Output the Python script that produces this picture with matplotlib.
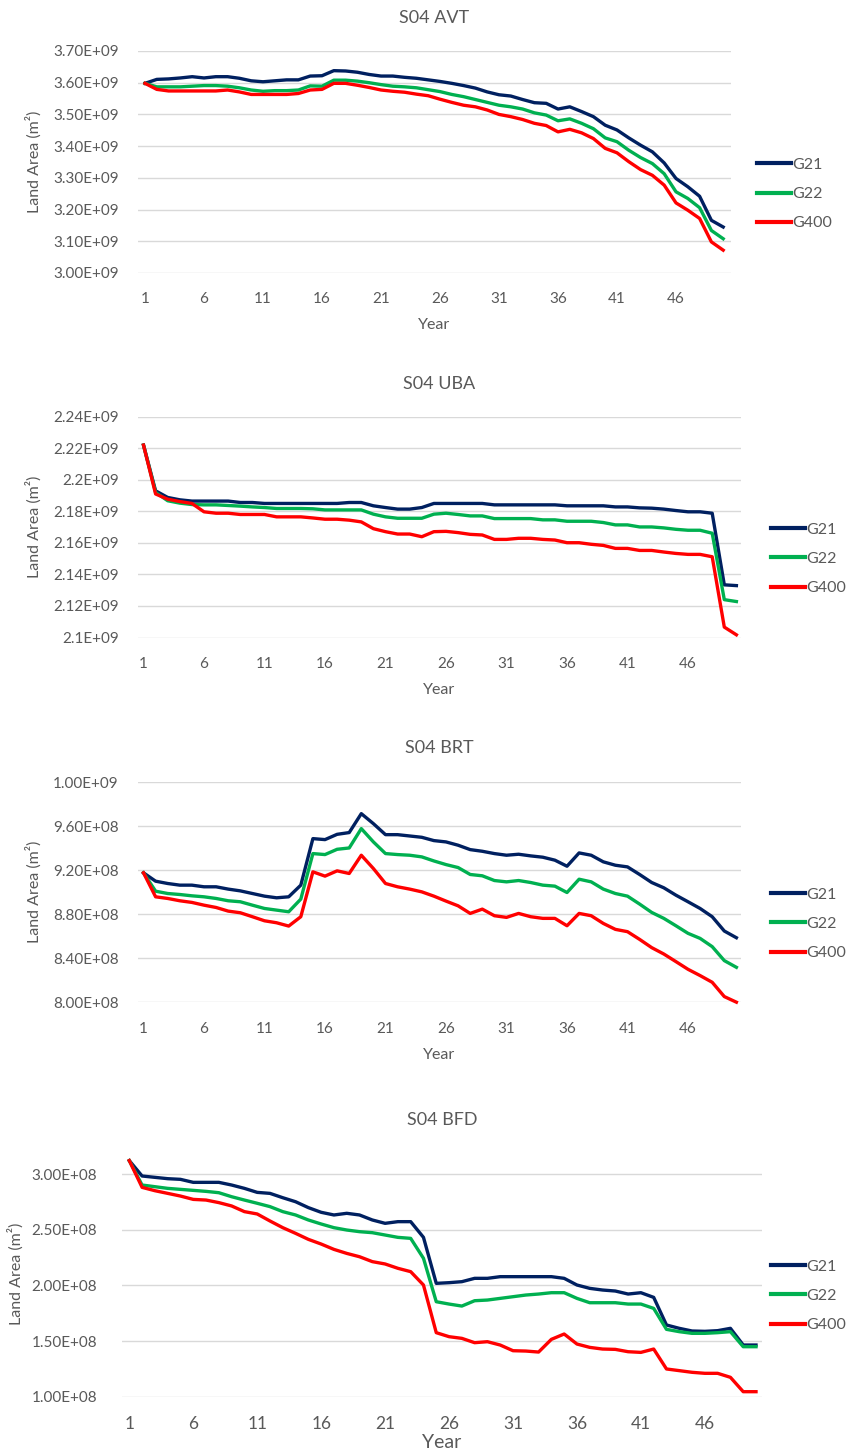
import matplotlib
matplotlib.use("Agg")
import matplotlib.pyplot as plt
from matplotlib.lines import Line2D

plt.rcParams['font.family'] = ['Lato', 'DejaVu Sans']

years = list(range(1, 51))
series_names = ["G21", "G22", "G400"]
colors = ["#002060", "#00B050", "#FF0000"]
xtick_years = [1, 6, 11, 16, 21, 26, 31, 36, 41, 46]

# ---- S04 AVT (units of 1e9 m2)
avt_g21 = [3.598, 3.6105, 3.612, 3.615, 3.619, 3.615, 3.619, 3.619, 3.614, 3.606,
           3.603, 3.606, 3.609, 3.609, 3.621, 3.622, 3.638, 3.637, 3.633, 3.626,
           3.621, 3.621, 3.617, 3.614, 3.609, 3.604, 3.598, 3.591, 3.583, 3.571,
           3.562, 3.558, 3.547, 3.537, 3.535, 3.517, 3.524, 3.509, 3.493, 3.466,
           3.451, 3.426, 3.403, 3.382, 3.347, 3.298, 3.272, 3.242, 3.166, 3.145]
avt_g22 = [3.598, 3.587, 3.587, 3.587, 3.589, 3.591, 3.591, 3.589, 3.584, 3.577,
           3.573, 3.575, 3.575, 3.577, 3.590, 3.589, 3.608, 3.608, 3.605, 3.600,
           3.594, 3.589, 3.587, 3.584, 3.578, 3.572, 3.563, 3.556, 3.547, 3.538,
           3.529, 3.524, 3.517, 3.505, 3.498, 3.480, 3.486, 3.472, 3.455, 3.426,
           3.414, 3.387, 3.364, 3.345, 3.313, 3.256, 3.235, 3.206, 3.134, 3.108]
avt_g400 = [3.598, 3.579, 3.574, 3.574, 3.574, 3.574, 3.574, 3.577, 3.571, 3.563,
            3.563, 3.563, 3.563, 3.566, 3.577, 3.579, 3.598, 3.598, 3.592, 3.585,
            3.577, 3.573, 3.570, 3.564, 3.559, 3.548, 3.538, 3.529, 3.524, 3.514,
            3.500, 3.493, 3.484, 3.472, 3.465, 3.445, 3.453, 3.442, 3.424, 3.393,
            3.379, 3.351, 3.326, 3.308, 3.277, 3.221, 3.198, 3.172, 3.098, 3.072]
avt_yticks = [3.00, 3.10, 3.20, 3.30, 3.40, 3.50, 3.60, 3.70]
avt_ylabels = ["3.00E+09", "3.10E+09", "3.20E+09", "3.30E+09", "3.40E+09",
               "3.50E+09", "3.60E+09", "3.70E+09"]

# ---- S04 UBA (units of 1e9 m2)
uba_g21 = [2.222, 2.193, 2.1888, 2.1873, 2.1865, 2.1865, 2.1865, 2.1865, 2.1856, 2.1856,
           2.185, 2.185, 2.185, 2.185, 2.185, 2.185, 2.185, 2.1856, 2.1856, 2.1835,
           2.1824, 2.1814, 2.1814, 2.1824, 2.185, 2.185, 2.185, 2.185, 2.185, 2.1841,
           2.1841, 2.1841, 2.1841, 2.1841, 2.1841, 2.1835, 2.1835, 2.1835, 2.1835, 2.1828,
           2.1828, 2.1822, 2.1820, 2.1814, 2.1805, 2.1797, 2.1797, 2.1788, 2.1334, 2.1329]
uba_g22 = [2.222, 2.192, 2.1867, 2.1852, 2.1843, 2.1841, 2.1841, 2.1837, 2.1833, 2.1828,
           2.1824, 2.1818, 2.1818, 2.1818, 2.1816, 2.1809, 2.1809, 2.1809, 2.1809, 2.1782,
           2.1765, 2.1756, 2.1756, 2.1756, 2.1782, 2.1788, 2.178, 2.1771, 2.1771, 2.1754,
           2.1754, 2.1754, 2.1754, 2.1746, 2.1746, 2.1737, 2.1737, 2.1737, 2.1729, 2.1714,
           2.1714, 2.1701, 2.1701, 2.1695, 2.1686, 2.168, 2.168, 2.1661, 2.124, 2.1228]
uba_g400 = [2.222, 2.191, 2.1877, 2.1862, 2.185, 2.1797, 2.1788, 2.1788, 2.178, 2.178,
            2.178, 2.1765, 2.1765, 2.1765, 2.1758, 2.175, 2.175, 2.1744, 2.1733, 2.169,
            2.1671, 2.1656, 2.1656, 2.1639, 2.1671, 2.1673, 2.1665, 2.1654, 2.165, 2.1622,
            2.1622, 2.1629, 2.1629, 2.1622, 2.1618, 2.1601, 2.1601, 2.1591, 2.1584, 2.1565,
            2.1565, 2.1552, 2.1552, 2.1542, 2.1533, 2.1527, 2.1527, 2.1512, 2.1066, 2.1017]
uba_yticks = [2.10, 2.12, 2.14, 2.16, 2.18, 2.20, 2.22, 2.24]
uba_ylabels = ["2.1E+09", "2.12E+09", "2.14E+09", "2.16E+09", "2.18E+09",
               "2.2E+09", "2.22E+09", "2.24E+09"]

# ---- S04 BRT (units of 1e8 m2)
brt_g21 = [9.177, 9.101, 9.080, 9.065, 9.065, 9.050, 9.050, 9.029, 9.013, 8.989,
           8.965, 8.950, 8.959, 9.065, 9.488, 9.479, 9.527, 9.543, 9.715, 9.624,
           9.524, 9.524, 9.512, 9.500, 9.470, 9.458, 9.428, 9.388, 9.373, 9.352,
           9.337, 9.346, 9.331, 9.319, 9.292, 9.237, 9.358, 9.337, 9.277, 9.246,
           9.231, 9.162, 9.089, 9.041, 8.974, 8.914, 8.853, 8.778, 8.648, 8.587]
brt_g22 = [9.177, 9.010, 8.989, 8.980, 8.968, 8.959, 8.944, 8.923, 8.914, 8.883,
           8.853, 8.838, 8.823, 8.938, 9.352, 9.343, 9.391, 9.403, 9.579, 9.458,
           9.352, 9.343, 9.337, 9.322, 9.285, 9.252, 9.225, 9.162, 9.150, 9.107,
           9.095, 9.107, 9.089, 9.065, 9.056, 8.998, 9.119, 9.095, 9.029, 8.989,
           8.965, 8.893, 8.817, 8.763, 8.696, 8.627, 8.581, 8.506, 8.379, 8.318]
brt_g400 = [9.177, 8.959, 8.944, 8.923, 8.908, 8.883, 8.862, 8.829, 8.814, 8.778,
            8.741, 8.723, 8.693, 8.778, 9.186, 9.147, 9.195, 9.171, 9.337, 9.216,
            9.080, 9.050, 9.029, 9.004, 8.965, 8.920, 8.877, 8.808, 8.847, 8.787,
            8.772, 8.808, 8.778, 8.763, 8.763, 8.696, 8.808, 8.787, 8.717, 8.663,
            8.642, 8.572, 8.497, 8.439, 8.370, 8.300, 8.243, 8.182, 8.052, 8.001]
brt_yticks = [8.0, 8.4, 8.8, 9.2, 9.6, 10.0]
brt_ylabels = ["8.00E+08", "8.40E+08", "8.80E+08", "9.20E+08", "9.60E+08", "1.00E+09"]

# ---- S04 BFD (units of 1e8 m2)
bfd_g21 = [3.12, 2.982, 2.970, 2.958, 2.952, 2.925, 2.925, 2.925, 2.901, 2.871,
           2.835, 2.826, 2.787, 2.751, 2.698, 2.656, 2.632, 2.647, 2.632, 2.587,
           2.557, 2.572, 2.572, 2.431, 2.018, 2.024, 2.033, 2.063, 2.063, 2.078,
           2.078, 2.078, 2.078, 2.078, 2.063, 2.003, 1.973, 1.958, 1.949, 1.922,
           1.934, 1.892, 1.644, 1.614, 1.590, 1.587, 1.593, 1.614, 1.464, 1.464]
bfd_g22 = [3.12, 2.901, 2.886, 2.871, 2.862, 2.853, 2.844, 2.832, 2.796, 2.766,
           2.737, 2.707, 2.662, 2.632, 2.587, 2.551, 2.518, 2.497, 2.482, 2.473,
           2.452, 2.431, 2.422, 2.243, 1.853, 1.832, 1.814, 1.862, 1.868, 1.883,
           1.898, 1.913, 1.922, 1.934, 1.934, 1.883, 1.844, 1.844, 1.844, 1.832,
           1.832, 1.793, 1.605, 1.584, 1.569, 1.569, 1.575, 1.584, 1.449, 1.449]
bfd_g400 = [3.12, 2.880, 2.850, 2.826, 2.802, 2.772, 2.766, 2.743, 2.713, 2.662,
            2.641, 2.578, 2.518, 2.467, 2.413, 2.371, 2.323, 2.287, 2.257, 2.213,
            2.192, 2.153, 2.123, 2.003, 1.575, 1.539, 1.524, 1.485, 1.494, 1.464,
            1.413, 1.410, 1.401, 1.515, 1.563, 1.473, 1.443, 1.428, 1.425, 1.404,
            1.398, 1.428, 1.249, 1.234, 1.219, 1.210, 1.210, 1.174, 1.045, 1.045]
bfd_yticks = [1.0, 1.5, 2.0, 2.5, 3.0]
bfd_ylabels = ["1.00E+08", "1.50E+08", "2.00E+08", "2.50E+08", "3.00E+08"]

for arr in [avt_g21, avt_g22, avt_g400, uba_g21, uba_g22, uba_g400,
            brt_g21, brt_g22, brt_g400, bfd_g21, bfd_g22, bfd_g400]:
    assert len(arr) == 50, len(arr)

W, H = 846, 1456
fig = plt.figure(figsize=(W / 100, H / 100), dpi=100)
fig.patch.set_facecolor("white")

TXT = "#595959"
GRID = "#D9D9D9"


def make_panel(title, data, scale, yticks, ylabels, ymin, ymax,
               x1px, pxyr, gl_left, gl_right, ytop_px, ybot_px,
               title_y, year_y, leg_y, leg_x, xtick_fs=11, year_fs=11.5,
               ylab_x=34, ypad=14):
    left = gl_left / W
    width = (gl_right - gl_left) / W
    bottom = 1 - ybot_px / H
    height = (ybot_px - ytop_px) / H
    ax = fig.add_axes([left, bottom, width, height])
    xl0 = 1 + (gl_left - x1px) / pxyr
    xl1 = 1 + (gl_right - x1px) / pxyr
    ax.set_xlim(xl0, xl1)
    ax.set_ylim(ymin * scale, ymax * scale)
    handles = []
    for vals, c, name in zip(data, colors, series_names):
        ax.plot(years, [v * scale for v in vals], color=c, lw=2.4,
                solid_joinstyle="round", clip_on=False, zorder=3)
        handles.append(Line2D([0], [0], color=c, lw=3.0))
    ax.set_yticks([t * scale for t in yticks])
    ax.set_yticklabels(ylabels)
    ax.set_xticks(xtick_years)
    ax.set_xticklabels([str(y) for y in xtick_years])
    ax.tick_params(axis="both", length=0, colors=TXT)
    ax.tick_params(axis="y", labelsize=11, pad=ypad)
    ax.tick_params(axis="x", labelsize=xtick_fs, pad=14)
    ax.grid(axis="y", color=GRID, lw=1.0, zorder=0)
    ax.set_axisbelow(True)
    for s in ax.spines.values():
        s.set_visible(False)
    xc = (gl_left + gl_right) / 2 / W
    fig.text(xc, 1 - title_y / H, title, ha="center", va="center",
             fontsize=13, color=TXT)
    fig.text(xc, 1 - year_y / H, "Year", ha="center", va="center",
             fontsize=year_fs, color=TXT)
    fig.text(ylab_x / W, 1 - (ytop_px + ybot_px) / 2 / H, "Land Area (m²)",
             rotation=90, ha="center", va="center", fontsize=11.5, color=TXT)
    leg = ax.legend(handles, series_names, loc="center left",
                    bbox_to_anchor=(leg_x / W, 1 - leg_y / H),
                    bbox_transform=fig.transFigure, frameon=False,
                    fontsize=11.5, handlelength=2.1, handletextpad=0.1,
                    labelspacing=0.95, borderpad=0, borderaxespad=0)
    for t in leg.get_texts():
        t.set_color(TXT)
    return ax


make_panel("S04 AVT", [avt_g21, avt_g22, avt_g400], 1e9, avt_yticks, avt_ylabels,
           3.00, 3.70, x1px=145, pxyr=11.8, gl_left=138, gl_right=731,
           ytop_px=51, ybot_px=273, title_y=18, year_y=325, leg_y=194, leg_x=757)

make_panel("S04 UBA", [uba_g21, uba_g22, uba_g400], 1e9, uba_yticks, uba_ylabels,
           2.10, 2.24, x1px=143.5, pxyr=12.1, gl_left=138, gl_right=741,
           ytop_px=416.7, ybot_px=637.5, title_y=384, year_y=690, leg_y=559, leg_x=771)

make_panel("S04 BRT", [brt_g21, brt_g22, brt_g400], 1e8, brt_yticks, brt_ylabels,
           8.0, 10.0, x1px=143.5, pxyr=12.1, gl_left=138, gl_right=741,
           ytop_px=782.3, ybot_px=1002.3, title_y=748, year_y=1055, leg_y=924, leg_x=771)

make_panel("S04 BFD", [bfd_g21, bfd_g22, bfd_g400], 1e8, bfd_yticks, bfd_ylabels,
           1.0, 3.2, x1px=129.3, pxyr=12.79, gl_left=122, gl_right=762,
           ytop_px=1174 - 0.2 * 111.35, ybot_px=1396.7, title_y=1120,
           year_y=1443, leg_y=1296, leg_x=771, xtick_fs=12.5, year_fs=14,
           ylab_x=16, ypad=18)

fig.savefig("out.png", dpi=100, facecolor="white")
